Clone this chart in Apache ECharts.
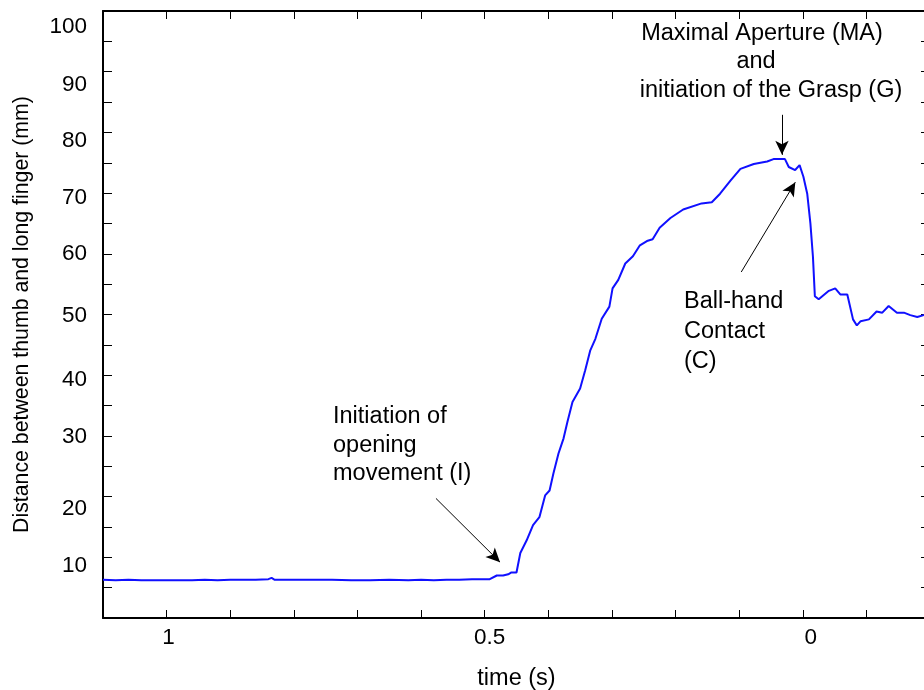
<!DOCTYPE html>
<html>
<head>
<meta charset="utf-8">
<title>Grasp aperture</title>
<script src="https://cdn.jsdelivr.net/npm/echarts@6/dist/echarts.min.js"></script>
<style>
  html, body { margin: 0; padding: 0; background: #fff; }
  #main { width: 924px; height: 690px; }
</style>
</head>
<body>
<div id="main"></div>
<script>
// time before grasp (s)
var timeS = [1.10, 1.08, 1.06, 1.04, 1.02, 1.00, 0.98, 0.96, 0.94, 0.92, 0.90, 0.88, 0.86, 0.84,
    0.835, 0.83, 0.80, 0.77, 0.74, 0.71, 0.68, 0.65, 0.62, 0.60, 0.58, 0.56, 0.54, 0.52, 0.50,
    0.492, 0.481, 0.471, 0.463, 0.458, 0.450, 0.444, 0.434, 0.424, 0.414, 0.405, 0.398, 0.392,
    0.384, 0.376, 0.370, 0.362, 0.350, 0.342, 0.334, 0.326, 0.316, 0.304, 0.299, 0.290, 0.279,
    0.267, 0.256, 0.245, 0.236, 0.225, 0.208, 0.188, 0.159, 0.143, 0.130, 0.114, 0.098, 0.077,
    0.056, 0.046, 0.028, 0.022, 0.020, 0.012, 0.005, -0.001, -0.007, -0.012, -0.016, -0.019,
    -0.025, -0.033, -0.041, -0.051, -0.059, -0.070, -0.079, -0.085, -0.091, -0.104, -0.116,
    -0.125, -0.135, -0.148, -0.159, -0.169, -0.180, -0.190, -0.200];
// distance between thumb and long finger (mm)
var distanceMm = [6.3, 6.2, 6.3, 6.2, 6.2, 6.2, 6.2, 6.2, 6.3, 6.2, 6.3, 6.3, 6.3, 6.4,
    6.6, 6.3, 6.3, 6.3, 6.3, 6.2, 6.2, 6.3, 6.2, 6.3, 6.2, 6.3, 6.3, 6.4, 6.4,
    6.4, 7.0, 7.0, 7.2, 7.5, 7.5, 10.7, 12.8, 15.3, 16.6, 20.2, 21.0, 23.8,
    27.1, 29.6, 32.3, 35.6, 37.8, 40.8, 44.1, 46.0, 49.3, 51.3, 54.3, 55.7, 58.4,
    59.6, 61.4, 62.1, 62.4, 64.3, 65.9, 67.3, 68.3, 68.5, 69.9, 72.0, 74.0, 74.8,
    75.2, 75.6, 75.6, 74.3, 74.1, 73.8, 74.6, 72.7, 69.9, 65.0, 59.5, 53.0,
    52.5, 53.2, 53.9, 54.3, 53.3, 53.3, 49.2, 48.2, 48.9, 49.2, 50.5,
    50.3, 51.4, 50.3, 50.3, 49.9, 49.6, 49.9, 50.0];

var xTickLabels = [1, 0.5, 0];
var yTickLabels = [10, 20, 30, 40, 50, 60, 70, 80, 90, 100];

// annotation arrows [from, to] in data coords
var arrowMA = [[0.0327, 82.9], [0.0327, 76.3]];
var arrowC = [[0.0967, 57.0], [0.0117, 71.8]];
var arrowI = [[0.5766, 19.7], [0.4759, 9.2]];

var FONT = 'Liberation Sans, Arial, Helvetica, sans-serif';

// the original figure's tick labels sit a little off their ticks (px)
var yLabelDrop = {100: 16, 90: 13, 80: 8, 70: 5, 60: 0, 50: 1, 40: 5, 30: 1, 20: 12, 10: 8};
var xLabelShift = {'1': 2, '0.5': 5, '0': 8};

var lineData = [];
for (var i = 0; i < timeS.length; i++) {
    lineData.push([timeS[i], distanceMm[i]]);
}

var yRich = {};
yTickLabels.forEach(function (v) {
    yRich['y' + v] = {
        fontSize: 22.5,
        color: '#000',
        fontFamily: FONT,
        padding: [yLabelDrop[v] * 2, 0, 0, 0]
    };
});

var xRich = {};
xTickLabels.forEach(function (v, k) {
    xRich['x' + k] = {
        fontSize: 22.5,
        color: '#000',
        fontFamily: FONT,
        padding: [0, 0, 0, xLabelShift[String(v)] * 2]
    };
});

function arrow(a) {
    return [{coord: a[0]}, {coord: a[1]}];
}

function note(text, x, y, align) {
    return {
        type: 'text',
        x: x,
        y: y,
        silent: true,
        style: {
            text: text,
            font: '23.5px ' + FONT,
            fill: '#000',
            align: align,
            textAlign: align,
            verticalAlign: 'middle',
            textVerticalAlign: 'middle'
        }
    };
}

var myChart = echarts.init(document.getElementById('main'), null, {renderer: 'canvas'});

var frameLine = {show: true, onZero: false, lineStyle: {color: '#000', width: 2}};

var option = {
    animation: false,
    backgroundColor: '#fff',
    grid: {
        left: 103,
        top: 11,
        right: -6,
        bottom: 72,
        outerBoundsMode: 'none'
    },
    xAxis: [
        {
            type: 'value',
            inverse: true,
            min: -0.2,
            max: 1.1,
            interval: 0.1,
            name: 'time (s)',
            nameLocation: 'middle',
            nameGap: 49,
            nameTextStyle: {fontSize: 23.5, color: '#000', fontFamily: FONT},
            axisLine: frameLine,
            axisTick: {show: true, inside: true, length: 8, lineStyle: {color: '#000', width: 1}},
            axisLabel: {
                margin: 8,
                rich: xRich,
                formatter: function (v) {
                    var r = Math.round(v * 10) / 10;
                    for (var k = 0; k < xTickLabels.length; k++) {
                        if (Math.abs(xTickLabels[k] - r) < 1e-6) {
                            return '{x' + k + '|' + xTickLabels[k] + '}';
                        }
                    }
                    return '';
                }
            },
            splitLine: {show: false}
        },
        {
            type: 'value',
            position: 'top',
            inverse: true,
            min: -0.2,
            max: 1.1,
            interval: 0.1,
            axisLine: frameLine,
            axisTick: {show: true, inside: true, length: 8, lineStyle: {color: '#000', width: 1}},
            axisLabel: {show: false},
            splitLine: {show: false}
        }
    ],
    yAxis: [
        {
            type: 'value',
            min: 0,
            max: 100,
            interval: 5,
            name: 'Distance between thumb and long finger (mm)',
            nameLocation: 'middle',
            nameGap: 70,
            nameTextStyle: {fontSize: 21.3, color: '#000', fontFamily: FONT},
            axisLine: frameLine,
            axisTick: {show: true, inside: true, length: 9, lineStyle: {color: '#000', width: 1}},
            axisLabel: {
                margin: 16,
                rich: yRich,
                formatter: function (v) {
                    var r = Math.round(v);
                    if (Math.abs(v - r) > 1e-6 || yTickLabels.indexOf(r) < 0) return '';
                    return '{y' + r + '|' + r + '}';
                }
            },
            splitLine: {show: false}
        },
        {
            type: 'value',
            position: 'right',
            min: 0,
            max: 100,
            interval: 5,
            axisLine: frameLine,
            axisTick: {show: true, inside: true, length: 9, lineStyle: {color: '#000', width: 1}},
            axisLabel: {show: false},
            splitLine: {show: false}
        }
    ],
    series: [
        {
            type: 'line',
            data: lineData,
            showSymbol: false,
            symbol: 'none',
            lineStyle: {color: '#1010ff', width: 2},
            markLine: {
                silent: true,
                symbol: ['none', 'arrow'],
                symbolSize: [10, 14],
                label: {show: false},
                lineStyle: {color: '#000', width: 1, type: 'solid'},
                emphasis: {disabled: true},
                data: [arrow(arrowMA), arrow(arrowC), arrow(arrowI)]
            }
        }
    ],
    graphic: [
        note('Maximal Aperture (MA)', 762, 34, 'center'),
        note('and', 756, 62, 'center'),
        note('initiation of the Grasp (G)', 771, 91, 'center'),
        note('Ball-hand', 684, 302, 'left'),
        note('Contact', 684, 332, 'left'),
        note('(C)', 684, 362, 'left'),
        note('Initiation of', 333, 417, 'left'),
        note('opening', 333, 446, 'left'),
        note('movement (I)', 333, 474, 'left')
    ]
};

myChart.setOption(option);
</script>
</body>
</html>
